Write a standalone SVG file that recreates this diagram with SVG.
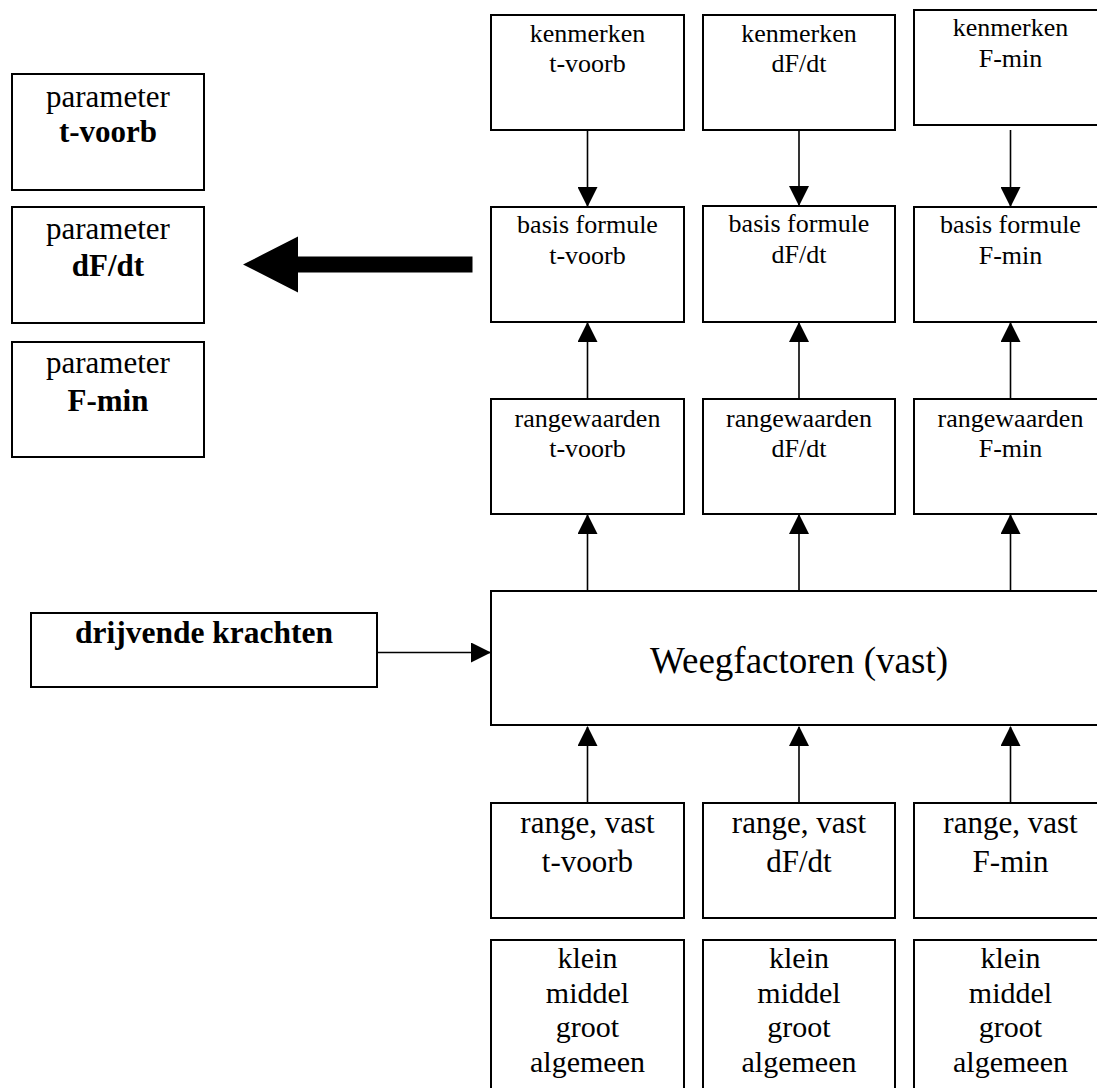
<svg xmlns="http://www.w3.org/2000/svg" width="1097" height="1088" viewBox="0 0 1097 1088">
<style>
.box{fill:#fff;stroke:#000;stroke-width:2}
.t{font-family:"Liberation Serif","Times New Roman",serif;fill:#000;text-anchor:middle}
.s{font-size:26px}
.m{font-size:31px}
.k{font-size:30px}
.b{font-weight:bold}
.c{stroke:#000;stroke-width:1.6;fill:none}
</style>
<defs>
<marker id="ah" viewBox="0 0 20 20" refX="19" refY="10" markerWidth="20" markerHeight="20" orient="auto" markerUnits="userSpaceOnUse">
<path d="M0,0 L20,10 L0,20 z" fill="#000"/>
</marker>
</defs>
<rect width="1097" height="1088" fill="#fff"/>

<g id="param-tvoorb"><rect class="box" x="12" y="74" width="192" height="116"/>
<text class="t m" x="108" y="107">parameter</text><text class="t m b" x="108" y="142">t-voorb</text></g>
<g id="param-dfdt"><rect class="box" x="12" y="207" width="192" height="116"/>
<text class="t m" x="108" y="239">parameter</text><text class="t m b" x="108" y="276">dF/dt</text></g>
<g id="param-fmin"><rect class="box" x="12" y="342" width="192" height="115"/>
<text class="t m" x="108" y="373">parameter</text><text class="t m b" x="108" y="411">F-min</text></g>

<g id="kenmerken-tvoorb"><rect class="box" x="491" y="15" width="193" height="115"/>
<text class="t s" x="587.5" y="42">kenmerken</text><text class="t s" x="587.5" y="72">t-voorb</text></g>
<g id="kenmerken-dfdt"><rect class="box" x="703" y="15" width="192" height="115"/>
<text class="t s" x="799" y="42">kenmerken</text><text class="t s" x="799" y="72">dF/dt</text></g>
<g id="kenmerken-fmin"><rect class="box" x="914" y="10" width="193" height="115"/>
<text class="t s" x="1010.5" y="36">kenmerken</text><text class="t s" x="1010.5" y="67">F-min</text></g>

<g id="basis-tvoorb"><rect class="box" x="491" y="207" width="193" height="115"/>
<text class="t s" x="587.5" y="233">basis formule</text><text class="t s" x="587.5" y="264">t-voorb</text></g>
<g id="basis-dfdt"><rect class="box" x="703" y="206" width="192" height="116"/>
<text class="t s" x="799" y="232">basis formule</text><text class="t s" x="799" y="263">dF/dt</text></g>
<g id="basis-fmin"><rect class="box" x="914" y="207" width="193" height="115"/>
<text class="t s" x="1010.5" y="233">basis formule</text><text class="t s" x="1010.5" y="264">F-min</text></g>

<g id="range-tvoorb"><rect class="box" x="491" y="399" width="193" height="115"/>
<text class="t s" x="587.5" y="427">rangewaarden</text><text class="t s" x="587.5" y="457">t-voorb</text></g>
<g id="range-dfdt"><rect class="box" x="703" y="399" width="192" height="115"/>
<text class="t s" x="799" y="427">rangewaarden</text><text class="t s" x="799" y="457">dF/dt</text></g>
<g id="range-fmin"><rect class="box" x="914" y="399" width="193" height="115"/>
<text class="t s" x="1010.5" y="427">rangewaarden</text><text class="t s" x="1010.5" y="457">F-min</text></g>

<g id="drijvende"><rect class="box" x="31" y="613" width="346" height="74"/>
<text class="t b" style="font-size:31.5px" x="204" y="643">drijvende krachten</text></g>

<g id="weegfactoren"><rect class="box" x="491" y="591" width="616" height="134"/>
<text class="t" style="font-size:37px" x="799" y="673">Weegfactoren (vast)</text></g>

<g id="rangevast-tvoorb"><rect class="box" x="491" y="803" width="193" height="115"/>
<text class="t m" x="587.5" y="833">range, vast</text><text class="t m" x="587.5" y="872">t-voorb</text></g>
<g id="rangevast-dfdt"><rect class="box" x="703" y="803" width="192" height="115"/>
<text class="t m" x="799" y="833">range, vast</text><text class="t m" x="799" y="872">dF/dt</text></g>
<g id="rangevast-fmin"><rect class="box" x="914" y="803" width="193" height="115"/>
<text class="t m" x="1010.5" y="833">range, vast</text><text class="t m" x="1010.5" y="872">F-min</text></g>

<g id="klasse-tvoorb"><rect class="box" x="491" y="940" width="193" height="160"/>
<text class="t k" x="587.5" y="968">klein</text><text class="t k" x="587.5" y="1003">middel</text><text class="t k" x="587.5" y="1037">groot</text><text class="t k" x="587.5" y="1072">algemeen</text></g>
<g id="klasse-dfdt"><rect class="box" x="703" y="940" width="192" height="160"/>
<text class="t k" x="799" y="968">klein</text><text class="t k" x="799" y="1003">middel</text><text class="t k" x="799" y="1037">groot</text><text class="t k" x="799" y="1072">algemeen</text></g>
<g id="klasse-fmin"><rect class="box" x="914" y="940" width="193" height="160"/>
<text class="t k" x="1010.5" y="968">klein</text><text class="t k" x="1010.5" y="1003">middel</text><text class="t k" x="1010.5" y="1037">groot</text><text class="t k" x="1010.5" y="1072">algemeen</text></g>

<g id="connectors">
<line class="c" x1="587.5" y1="130" x2="587.5" y2="206" marker-end="url(#ah)"/>
<line class="c" x1="799" y1="130" x2="799" y2="205" marker-end="url(#ah)"/>
<line class="c" x1="1010.5" y1="130" x2="1010.5" y2="206" marker-end="url(#ah)"/>
<line class="c" x1="587.5" y1="399" x2="587.5" y2="323" marker-end="url(#ah)"/>
<line class="c" x1="799" y1="399" x2="799" y2="323" marker-end="url(#ah)"/>
<line class="c" x1="1010.5" y1="399" x2="1010.5" y2="323" marker-end="url(#ah)"/>
<line class="c" x1="587.5" y1="591" x2="587.5" y2="515" marker-end="url(#ah)"/>
<line class="c" x1="799" y1="591" x2="799" y2="515" marker-end="url(#ah)"/>
<line class="c" x1="1010.5" y1="591" x2="1010.5" y2="515" marker-end="url(#ah)"/>
<line class="c" x1="587.5" y1="803" x2="587.5" y2="727" marker-end="url(#ah)"/>
<line class="c" x1="799" y1="803" x2="799" y2="727" marker-end="url(#ah)"/>
<line class="c" x1="1010.5" y1="803" x2="1010.5" y2="727" marker-end="url(#ah)"/>
<line class="c" x1="377" y1="652.5" x2="490" y2="652.5" marker-end="url(#ah)"/>
<polygon points="243,264.5 298,236.5 298,256.5 472.5,256.5 472.5,272.5 298,272.5 298,292.5" fill="#000"/>
</g>
</svg>
